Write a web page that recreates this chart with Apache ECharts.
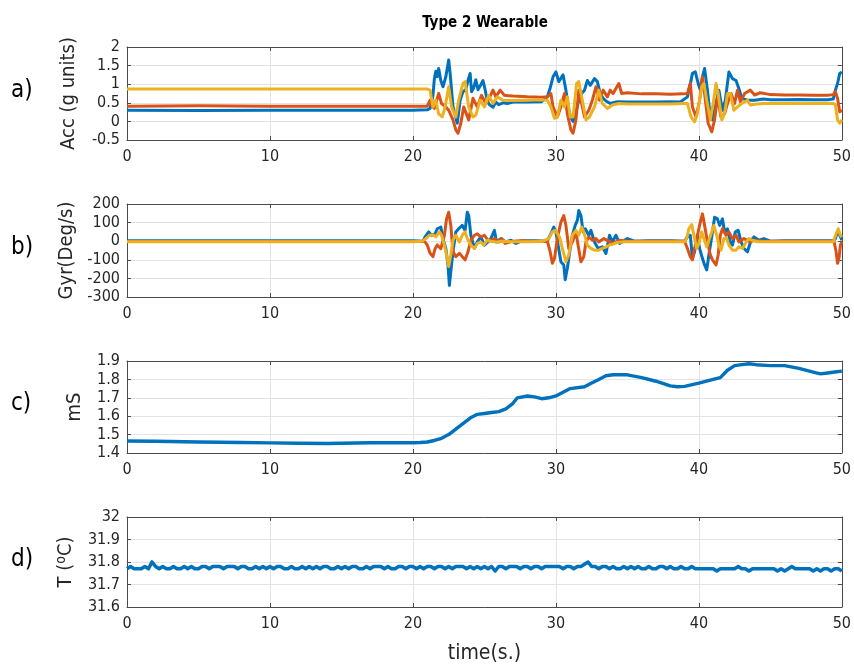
<!DOCTYPE html>
<html>
<head>
<meta charset="utf-8">
<script src="https://cdn.jsdelivr.net/npm/echarts@6/dist/echarts.min.js"></script>
<style>html,body{margin:0;padding:0;background:#fff;}#chart{width:854px;height:665px;}</style>
</head>
<body>
<div id="chart"></div>
<script>
// ---------- DATA ----------
const chartTitle = 'Type 2 Wearable';
const xTicks = [0, 10, 20, 30, 40, 50];
const panelLabels = ['a)', 'b)', 'c)', 'd)'];

// a) Accelerometer (g units) [time s, value]
const accBlue = [[0,0.30],[5,0.29],[10,0.30],[15,0.30],[20,0.30],[21.0,0.31],[21.2,0.35],[21.4,0.7],[21.5,1.15],[21.6,1.35],[21.7,1.2],[21.8,1.42],[21.95,1.1],[22.1,0.93],[22.3,1.2],[22.5,1.65],[22.6,1.3],[22.8,0.4],[22.9,0.25],[23.0,0.1],[23.1,-0.05],[23.3,0.57],[23.5,0.8],[23.7,0.85],[23.85,1.1],[24.0,1.29],[24.1,0.8],[24.25,0.9],[24.4,1.12],[24.55,0.85],[24.7,0.95],[24.9,1.1],[25.05,0.85],[25.2,0.55],[25.35,0.45],[25.6,0.38],[25.8,0.52],[26.0,0.45],[26.3,0.5],[26.6,0.48],[27,0.52],[28,0.52],[29,0.53],[29.4,0.66],[29.6,0.9],[29.8,1.2],[30.0,1.33],[30.2,1.07],[30.5,1.25],[30.7,0.84],[30.9,0.3],[31.05,0.1],[31.2,0.0],[31.35,0.15],[31.6,0.57],[31.8,0.75],[32.0,0.84],[32.2,1.1],[32.4,0.97],[32.7,1.15],[32.9,1.07],[33.1,0.75],[33.3,0.62],[33.5,0.55],[33.8,0.48],[34.3,0.53],[35,0.52],[36,0.52],[37,0.52],[38,0.53],[38.7,0.52],[39.2,0.66],[39.4,1.0],[39.55,1.29],[39.75,1.33],[39.95,1.02],[40.1,0.84],[40.25,1.2],[40.4,1.42],[40.6,0.84],[40.8,0.12],[40.95,0.04],[41.15,0.39],[41.4,0.84],[41.65,0.3],[41.85,0.57],[42.1,1.33],[42.35,1.15],[42.6,1.1],[42.8,0.88],[43.0,0.62],[43.4,0.57],[43.9,0.57],[44.5,0.6],[45,0.58],[46,0.58],[47,0.59],[48,0.58],[49,0.58],[49.4,0.6],[49.55,0.84],[49.7,1.02],[49.85,1.29],[50,1.33]];
const accOrange = [[0,0.41],[5,0.42],[10,0.41],[15,0.41],[20,0.41],[21.0,0.41],[21.2,0.57],[21.35,0.4],[21.5,0.35],[21.65,0.55],[21.8,0.75],[22.0,0.48],[22.3,0.39],[22.5,0.3],[22.8,0.04],[23.0,-0.23],[23.15,-0.32],[23.35,-0.05],[23.55,0.39],[23.9,0.04],[24.2,0.62],[24.5,0.39],[24.8,0.7],[25.1,0.48],[25.3,0.6],[25.6,0.84],[25.8,0.66],[26.1,0.84],[26.4,0.7],[26.7,0.69],[27,0.68],[28,0.66],[29,0.65],[29.4,0.66],[29.65,0.75],[29.8,0.39],[30.1,0.12],[30.35,0.39],[30.6,0.75],[30.8,0.21],[31.05,-0.23],[31.2,-0.32],[31.4,0.04],[31.6,0.84],[31.8,0.48],[32.0,0.12],[32.3,0.3],[32.55,0.57],[32.8,0.93],[33.05,0.57],[33.3,0.84],[33.6,0.66],[33.8,0.84],[34.0,0.75],[34.4,1.02],[34.6,0.75],[35.0,0.77],[36,0.74],[37,0.74],[38,0.73],[38.9,0.74],[39.2,0.75],[39.4,1.02],[39.55,0.39],[39.8,0.12],[40.05,0.57],[40.25,1.2],[40.4,0.75],[40.65,-0.05],[40.9,-0.28],[41.1,0.04],[41.3,0.66],[41.55,0.12],[41.8,0.21],[42.0,0.48],[42.25,0.75],[42.5,0.48],[42.7,0.84],[42.9,0.53],[43.2,0.75],[43.6,0.84],[43.9,0.71],[44.3,0.77],[45,0.72],[46,0.71],[47,0.71],[48,0.7],[49,0.7],[49.4,0.72],[49.55,0.8],[49.7,0.62],[49.85,0.26],[50,0.3]];
const accYellow = [[0,0.87],[5,0.87],[10,0.87],[15,0.87],[20,0.87],[21.0,0.87],[21.2,0.84],[21.4,0.39],[21.6,0.57],[21.8,0.2],[22.05,0.12],[22.25,0.39],[22.5,0.93],[22.7,0.39],[23.0,0.12],[23.2,0.57],[23.5,1.02],[23.65,1.07],[23.9,0.39],[24.2,0.12],[24.4,0.17],[24.7,0.57],[25.0,0.39],[25.3,0.7],[25.6,0.48],[25.9,0.66],[26.3,0.57],[27,0.56],[28,0.57],[29,0.58],[29.4,0.57],[29.65,0.39],[29.9,0.08],[30.1,0.12],[30.35,0.57],[30.6,0.39],[30.8,0.66],[31.0,0.12],[31.2,0.12],[31.45,1.02],[31.6,1.07],[31.85,0.57],[32.1,0.04],[32.35,0.12],[32.7,0.39],[33.0,0.84],[33.25,0.48],[33.6,0.35],[33.95,0.44],[34.4,0.48],[35,0.47],[36,0.47],[37,0.47],[38,0.47],[38.9,0.48],[39.2,0.48],[39.45,0.12],[39.7,-0.01],[39.9,0.21],[40.2,0.93],[40.35,1.02],[40.55,0.57],[40.8,0.04],[41.0,0.48],[41.2,1.02],[41.35,0.75],[41.6,0.04],[41.8,0.21],[42.0,0.75],[42.2,0.75],[42.45,0.3],[42.7,0.39],[43.0,0.48],[43.4,0.57],[43.6,0.44],[43.9,0.46],[44.5,0.48],[45,0.48],[46,0.48],[47,0.48],[48,0.48],[49,0.48],[49.4,0.48],[49.55,0.44],[49.7,0.04],[49.85,-0.05],[50,0.04]];

// b) Gyroscope (Deg/s) [time s, value]
const gyrBlue = [[0,2],[10,2],[20,2],[20.7,0],[20.85,23],[21.1,50],[21.3,32],[21.55,40],[21.7,67],[21.95,76],[22.1,14],[22.3,-39],[22.45,-128],[22.55,-238],[22.65,-163],[22.8,-57],[23.0,50],[23.2,67],[23.45,85],[23.65,58],[23.8,156],[23.9,138],[24.05,32],[24.3,-39],[24.5,-4],[24.75,23],[25.0,-21],[25.25,-4],[25.45,14],[25.7,58],[25.85,-4],[26.15,14],[26.5,-4],[26.85,5],[27.2,-12],[27.6,2],[28.5,2],[29.4,0],[29.6,32],[29.85,76],[30.0,50],[30.15,-21],[30.35,-110],[30.55,-128],[30.65,-207],[30.8,-145],[31.0,-39],[31.15,32],[31.35,85],[31.5,112],[31.6,165],[31.75,138],[31.9,50],[32.05,67],[32.3,32],[32.45,58],[32.7,-4],[32.95,-39],[33.25,-30],[33.5,-66],[33.75,32],[33.95,-4],[34.2,32],[34.45,-12],[34.8,5],[35.0,14],[35.5,0],[36.5,2],[38,2],[39.0,0],[39.2,23],[39.4,32],[39.55,-92],[39.7,-57],[39.9,32],[40.05,-39],[40.25,-92],[40.4,-128],[40.55,-154],[40.7,-74],[40.95,50],[41.1,129],[41.3,120],[41.45,85],[41.65,120],[41.8,50],[42.0,67],[42.2,-4],[42.35,-21],[42.55,50],[42.75,58],[42.95,-4],[43.15,-39],[43.4,-57],[43.65,5],[43.85,23],[44.2,5],[44.55,14],[45.0,0],[46,2],[48,2],[49.4,2],[49.55,14],[49.7,50],[49.85,32],[50,5]];
const gyrOrange = [[0,-2],[10,-2],[20,-2],[20.8,0],[21.0,-20],[21.2,-65],[21.4,-83],[21.55,-40],[21.7,-20],[21.95,-40],[22.2,32],[22.35,120],[22.5,156],[22.65,85],[22.8,-57],[23.0,-83],[23.25,-65],[23.45,-83],[23.65,-100],[23.85,-57],[24.05,5],[24.3,32],[24.5,40],[24.75,23],[25.0,32],[25.25,5],[25.45,5],[25.7,14],[26.0,-4],[26.2,14],[26.45,-12],[26.95,0],[27.5,2],[28,0],[29.0,0],[29.4,0],[29.6,-57],[29.75,-119],[29.9,-92],[30.1,14],[30.35,103],[30.55,138],[30.7,85],[30.9,-39],[31.15,-4],[31.4,50],[31.55,-21],[31.75,-110],[31.95,-83],[32.1,-4],[32.3,23],[32.55,5],[32.8,14],[33.0,-4],[33.35,14],[33.7,0],[34.0,-12],[34.4,5],[35,0],[36,0],[38,0],[39.0,0],[39.2,-39],[39.4,-83],[39.55,-100],[39.7,-39],[39.9,32],[40.1,103],[40.25,147],[40.4,85],[40.6,-4],[40.8,-74],[40.95,-100],[41.2,-128],[41.35,-74],[41.5,32],[41.65,67],[41.9,32],[42.1,50],[42.35,14],[42.6,32],[42.8,-4],[43.15,14],[43.6,-4],[43.85,5],[44.5,0],[46,0],[48,0],[49.45,0],[49.6,-57],[49.7,-119],[49.8,-92],[49.9,-21],[50,-4]];
const gyrYellow = [[0,-3],[10,-3],[20,-3],[20.65,0],[20.9,14],[21.15,32],[21.4,35],[21.6,23],[21.85,50],[22.0,32],[22.2,-21],[22.35,-74],[22.5,-136],[22.65,-74],[22.8,5],[23.0,32],[23.25,-4],[23.45,32],[23.65,50],[23.8,14],[24.05,-21],[24.3,-39],[24.5,-12],[24.75,-4],[24.95,-21],[25.2,5],[25.45,0],[25.8,-5],[26.2,0],[27,-3],[28,-3],[29.0,-2],[29.5,14],[29.75,50],[29.95,58],[30.25,23],[30.45,-39],[30.7,-110],[30.9,-74],[31.15,32],[31.4,58],[31.6,32],[31.8,76],[31.95,50],[32.2,-21],[32.45,-39],[32.7,-48],[33.0,-48],[33.25,-39],[33.5,-30],[33.75,-21],[33.95,-17],[34.3,-7],[34.8,-3],[36,-3],[38,-3],[39.0,-3],[39.15,14],[39.3,67],[39.5,89],[39.65,32],[39.85,-39],[40.0,-12],[40.2,50],[40.35,14],[40.55,-30],[40.7,5],[40.9,50],[41.05,85],[41.25,32],[41.4,-21],[41.55,-48],[41.75,14],[41.95,14],[42.1,-21],[42.35,-48],[42.6,-48],[42.8,-30],[43.05,-39],[43.25,-12],[43.5,14],[43.75,5],[44.1,-3],[45,-3],[47,-3],[49.4,-3],[49.6,40],[49.75,67],[49.9,32],[50,23]];

// c) Skin conductance (mS) [time s, value]
const conductance = [[0,1.465],[2,1.464],[5,1.46],[8,1.457],[10,1.455],[12,1.453],[14,1.452],[16,1.454],[17,1.456],[19,1.456],[20,1.456],[20.5,1.457],[21,1.46],[21.5,1.468],[22,1.48],[22.5,1.50],[23,1.53],[23.5,1.56],[24,1.59],[24.5,1.61],[25,1.615],[25.5,1.62],[26,1.625],[26.5,1.64],[27,1.67],[27.3,1.70],[28,1.71],[28.5,1.705],[29,1.695],[29.5,1.70],[30,1.71],[30.5,1.73],[31,1.75],[32,1.76],[32.5,1.78],[33,1.80],[33.5,1.82],[34,1.825],[35,1.825],[36,1.81],[37,1.79],[38,1.765],[38.5,1.76],[39,1.762],[40,1.78],[41,1.80],[41.5,1.81],[42,1.85],[42.5,1.875],[43,1.88],[43.5,1.885],[44,1.88],[45,1.875],[46,1.875],[47,1.86],[48,1.84],[48.5,1.83],[49,1.835],[49.5,1.84],[50,1.845]];

// d) Skin temperature (°C), sampled every 0.25 s from t = 0
const tempStep = 0.25;
const temperature = [
31.77,31.78,31.77,31.77,31.77,31.78,31.77,31.80,31.78,31.77,31.78,31.77,31.77,31.78,31.77,31.77,31.78,31.77,31.78,31.77,
31.77,31.78,31.78,31.77,31.78,31.78,31.78,31.77,31.78,31.78,31.78,31.77,31.78,31.78,31.77,31.77,31.78,31.77,31.78,31.77,
31.78,31.77,31.78,31.78,31.77,31.77,31.78,31.77,31.77,31.78,31.77,31.78,31.77,31.78,31.77,31.78,31.78,31.77,31.77,31.78,
31.77,31.78,31.77,31.78,31.78,31.77,31.77,31.78,31.77,31.78,31.78,31.78,31.77,31.78,31.77,31.77,31.78,31.78,31.77,31.78,
31.78,31.77,31.78,31.77,31.78,31.78,31.77,31.78,31.78,31.77,31.78,31.77,31.78,31.78,31.78,31.77,31.78,31.77,31.78,31.77,
31.78,31.77,31.78,31.76,31.78,31.78,31.77,31.78,31.78,31.78,31.77,31.78,31.78,31.77,31.78,31.78,31.77,31.78,31.78,31.78,
31.78,31.78,31.77,31.78,31.78,31.77,31.78,31.78,31.79,31.80,31.78,31.78,31.77,31.78,31.78,31.77,31.78,31.77,31.77,31.78,
31.77,31.78,31.77,31.78,31.77,31.77,31.78,31.77,31.77,31.78,31.78,31.77,31.78,31.77,31.77,31.78,31.77,31.77,31.78,31.77,
31.77,31.77,31.77,31.77,31.77,31.76,31.77,31.77,31.77,31.77,31.77,31.78,31.77,31.77,31.76,31.77,31.77,31.77,31.77,31.77,
31.77,31.77,31.76,31.77,31.76,31.77,31.78,31.77,31.77,31.77,31.77,31.77,31.76,31.77,31.76,31.77,31.77,31.76,31.77,31.77,
31.76];

// axis settings per panel
const yMins = [-0.5, -300, 1.4, 31.6];
const yMaxs = [2, 200, 1.9, 32];
const yIntervals = [0.5, 100, 0.1, 0.1];
const yNames = ['Acc (g units)', 'Gyr(Deg/s)', 'mS', 'T ({s|o}C)'];
const xName = 'time(s.)';

// ---------- CHART ----------
const C_BLUE = '#0072BD', C_ORANGE = '#D95319', C_YELLOW = '#EDB120';
const FONT = 'DejaVu Sans Condensed';
const AX = '#4a4a4a';
const GRIDC = '#e3e3e3';
const grids = [
  {left: 127, right: 12, top: 47, height: 93},
  {left: 127, right: 12, top: 204, height: 93},
  {left: 127, right: 12, top: 361, height: 92},
  {left: 127, right: 12, top: 517, height: 92}
];
const nameGaps = [48, 48, 42, 50];

const xAxes = [], yAxes = [];
grids.forEach((g, i) => {
  xAxes.push({
    type: 'value', gridIndex: i, min: 0, max: 50, interval: 10,
    axisLine: {show: true, onZero: false, lineStyle: {color: AX, width: 1}},
    axisTick: {show: true, inside: true, length: 4, lineStyle: {color: AX}},
    axisLabel: {color: '#262626', fontFamily: FONT, fontSize: 16, margin: 9,
                customValues: xTicks},
    splitLine: {show: true, lineStyle: {color: GRIDC, width: 1}},
    name: i === 3 ? xName : '', nameLocation: 'middle', nameGap: 36,
    nameTextStyle: {color: '#262626', fontFamily: FONT, fontSize: 21}
  });
  xAxes.push({
    type: 'value', gridIndex: i, min: 0, max: 50, interval: 10, position: 'top',
    axisLine: {show: true, onZero: false, lineStyle: {color: AX, width: 1}},
    axisTick: {show: true, inside: true, length: 4, lineStyle: {color: AX}},
    axisLabel: {show: false}, splitLine: {show: false}
  });
  yAxes.push({
    type: 'value', gridIndex: i, min: yMins[i], max: yMaxs[i], interval: yIntervals[i],
    axisLine: {show: true, onZero: false, lineStyle: {color: AX, width: 1}},
    axisTick: {show: true, inside: true, length: 4, lineStyle: {color: AX}},
    axisLabel: {color: '#262626', fontFamily: FONT, fontSize: 16, margin: 7,
      formatter: v => String(+v.toFixed(2))},
    splitLine: {show: true, lineStyle: {color: GRIDC, width: 1}},
    name: yNames[i], nameLocation: 'middle', nameGap: nameGaps[i],
    nameTextStyle: {color: '#262626', fontFamily: FONT, fontSize: 20,
      rich: {s: {fontSize: 14, fontFamily: FONT, color: '#262626', verticalAlign: 'bottom', padding: [0,0,9,0]}}}
  });
  yAxes.push({
    type: 'value', gridIndex: i, min: yMins[i], max: yMaxs[i], interval: yIntervals[i], position: 'right',
    axisLine: {show: true, onZero: false, lineStyle: {color: AX, width: 1}},
    axisTick: {show: true, inside: true, length: 4, lineStyle: {color: AX}},
    axisLabel: {show: false}, splitLine: {show: false}
  });
});

function line(data, color, xi, yi, w) {
  return {type: 'line', data: data, xAxisIndex: xi, yAxisIndex: yi, showSymbol: false,
    symbol: 'none', lineStyle: {color: color, width: w, join: 'round'}, itemStyle: {color: color},
    animation: false, silent: true};
}
const tempData = temperature.map((v, k) => [k * tempStep, v]);

const option = {
  backgroundColor: '#ffffff',
  animation: false,
  title: {text: chartTitle, left: 480, top: 11, textAlign: 'center',
    textStyle: {fontFamily: FONT, fontSize: 15, fontWeight: 'bold', color: '#000'}},
  grid: grids,
  xAxis: xAxes,
  yAxis: yAxes,
  series: [
    line(accBlue, C_BLUE, 0, 0, 3),
    line(accOrange, C_ORANGE, 0, 0, 3),
    line(accYellow, C_YELLOW, 0, 0, 3),
    line(gyrBlue, C_BLUE, 2, 2, 3),
    line(gyrOrange, C_ORANGE, 2, 2, 3),
    line(gyrYellow, C_YELLOW, 2, 2, 3),
    line(conductance, C_BLUE, 4, 4, 3.4),
    line(tempData, C_BLUE, 6, 6, 3.6)
  ],
  graphic: panelLabels.map((t, i) => ({
    type: 'text', left: 11, top: grids[i].top + grids[i].height / 2 - 15,
    style: {text: t, fontFamily: FONT, fontSize: 24, fill: '#000'}
  }))
};

const chart = echarts.init(document.getElementById('chart'), null, {renderer: 'canvas'});
chart.setOption(option);
</script>
</body>
</html>
